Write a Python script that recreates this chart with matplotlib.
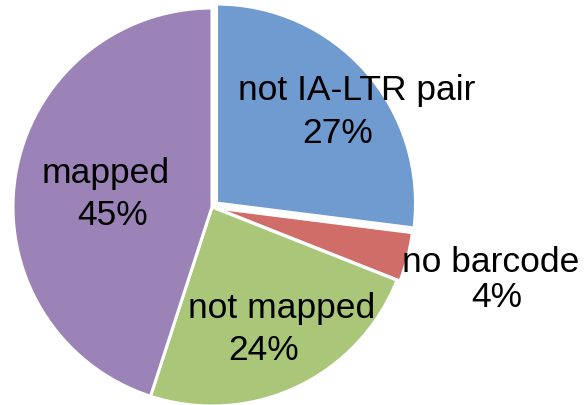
import matplotlib.pyplot as plt

labels = ["not IA-LTR pair", "no barcode", "not mapped", "mapped"]
shares = [27, 4, 24, 45]
colors = ["#6f9bd1", "#d16d69", "#a9c679", "#9b83b8"]
explode = [6, 3, 0, 0]  # pixel offsets (pie radius is in pixels)

# text anchors in pixel coords (x centre, baseline y from top):
# one pair for the name line, one for the percent line
name_xy = [(357, 100), (491, 272), (282, 318), (106, 183)]
pct_xy = [(338, 143), (497, 307), (264, 360), (113, 225)]

W, H = 584, 405
fig = plt.figure(figsize=(W / 100, H / 100), dpi=100)
ax = fig.add_axes([0, 0, 1, 1])

ax.pie(shares, colors=colors, explode=explode, startangle=90, counterclock=False,
       radius=199, center=(212, H - 207),
       wedgeprops=dict(edgecolor="white", linewidth=2.2))

font = dict(ha="center", va="baseline", fontsize=25.5,
            family="Liberation Sans", color="black")
for lab, val, (nx, ny), (px, py) in zip(labels, shares, name_xy, pct_xy):
    ax.text(nx, H - ny, lab, **font)
    ax.text(px, H - py, f"{val}%", **font)

ax.set_xlim(0, W)
ax.set_ylim(0, H)
ax.set_aspect("equal")
ax.axis("off")

fig.savefig("out.png", dpi=100)
